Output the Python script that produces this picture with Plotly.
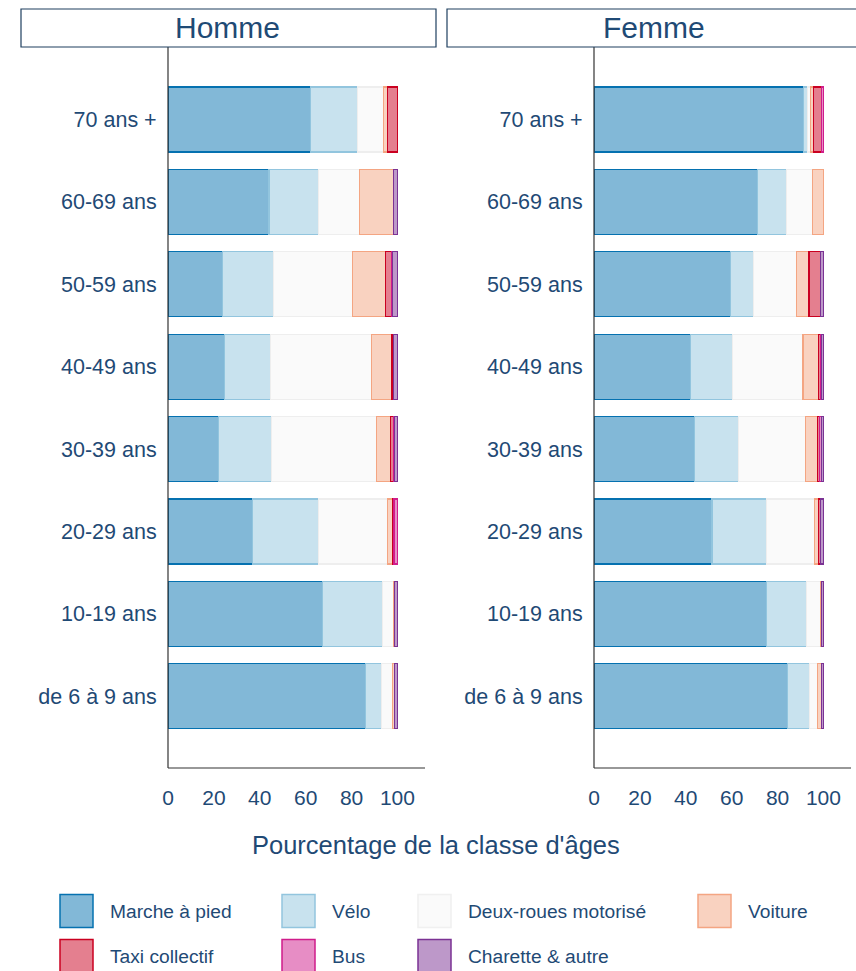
import plotly.graph_objects as go

W, H = 856, 971

ages = ["de 6 à 9 ans", "10-19 ans", "20-29 ans", "30-39 ans",
        "40-49 ans", "50-59 ans", "60-69 ans", "70 ans +"]

modes = ["Marche à pied", "Vélo", "Deux-roues motorisé", "Voiture",
         "Taxi collectif", "Bus", "Charette & autre"]

# Homme (order follows ages list)
homme_marche   = [86.2, 67.2, 36.7, 21.9, 24.5, 23.9, 44.0, 62.2]
homme_velo     = [7.0, 26.3, 28.8, 23.3, 20.3, 22.2, 21.7, 20.5]
homme_deux     = [4.5, 5.0, 30.3, 45.7, 43.9, 34.2, 17.6, 11.3]
homme_voiture  = [1.0, 0.3, 2.1, 6.2, 8.9, 14.6, 15.1, 1.8]
homme_taxi     = [0.0, 0.0, 0.6, 1.0, 0.8, 2.6, 0.0, 4.2]
homme_bus      = [0.0, 0.0, 1.5, 0.6, 0.0, 0.3, 0.0, 0.0]
homme_charette = [1.3, 1.2, 0.0, 1.3, 1.6, 2.2, 1.6, 0.0]

# Femme
femme_marche   = [84.4, 75.1, 51.4, 43.8, 42.1, 59.5, 71.3, 91.4]
femme_velo     = [9.5, 17.6, 23.7, 19.2, 18.2, 9.9, 12.5, 1.5]
femme_deux     = [3.5, 6.0, 21.1, 29.3, 30.8, 18.9, 11.5, 1.4]
femme_voiture  = [1.8, 0.3, 1.5, 5.2, 6.8, 5.4, 4.7, 1.2]
femme_taxi     = [0.0, 0.3, 1.0, 0.9, 0.9, 5.0, 0.0, 3.5]
femme_bus      = [0.0, 0.0, 0.0, 0.8, 0.4, 0.0, 0.0, 1.0]
femme_charette = [0.8, 0.7, 1.3, 0.8, 0.8, 1.3, 0.0, 0.0]

x_ticks = [0, 20, 40, 60, 80, 100]

line_colors = ["#0571b0", "#92c5de", "#eeeeee", "#f4a582",
               "#ca0020", "#d01c8b", "#7b3294"]
fill_colors = ["rgba(5,113,176,0.5)", "rgba(146,197,222,0.5)",
               "rgba(247,247,247,0.6)", "rgba(244,165,130,0.5)",
               "rgba(202,0,32,0.5)", "rgba(208,28,139,0.5)",
               "rgba(123,50,148,0.5)"]

TXT = "#1f4a75"
FONT = "Liberation Sans"

homme = [homme_marche, homme_velo, homme_deux, homme_voiture,
         homme_taxi, homme_bus, homme_charette]
femme = [femme_marche, femme_velo, femme_deux, femme_voiture,
         femme_taxi, femme_bus, femme_charette]

fig = go.Figure()

def nz(vals):
    return [v if v > 0 else None for v in vals]

for axis, data in (("x", homme), ("x2", femme)):
    for i, name in enumerate(modes):
        fig.add_trace(go.Bar(
            x=nz(data[i]), y=ages, orientation="h", name=name,
            xaxis=axis, yaxis="y" if axis == "x" else "y2",
            marker=dict(color=fill_colors[i],
                        line=dict(color=line_colors[i], width=1.2)),
            showlegend=False,
        ))

def px(v):
    return v / W

def py(v):
    return 1 - v / H

dom1 = [px(168), px(425)]
dom2 = [px(594), px(851)]
ydom = [py(768), py(47)]

xcommon = dict(range=[0, 112], tickvals=x_ticks, showgrid=False, zeroline=False,
               showline=False, ticks="outside", ticklen=11,
               tickcolor="rgba(0,0,0,0)",
               tickfont=dict(size=21, color=TXT, family=FONT), automargin=False)
ycommon = dict(type="category", categoryorder="array", categoryarray=ages,
               range=[-0.87, 7.88], showgrid=False, zeroline=False,
               showline=False, ticks="outside", ticklen=6,
               tickcolor="rgba(0,0,0,0)",
               tickfont=dict(size=21.5, color=TXT, family=FONT), automargin=False)

fig.update_layout(
    width=W, height=H,
    margin=dict(l=0, r=0, t=0, b=0),
    paper_bgcolor="white", plot_bgcolor="white",
    barmode="stack", bargap=0.21,
    showlegend=False,
    font=dict(family=FONT, color=TXT),
    xaxis=dict(domain=dom1, anchor="y", **xcommon),
    xaxis2=dict(domain=dom2, anchor="y2", **xcommon),
    yaxis=dict(domain=ydom, anchor="x", **ycommon),
    yaxis2=dict(domain=ydom, anchor="x2", **ycommon),
)

shapes = []
annotations = []
AX = "#333333"
# axis lines (left + bottom) per panel
for d in (dom1, dom2):
    shapes.append(dict(type="line", xref="paper", yref="paper",
                       x0=d[0], x1=d[0], y0=ydom[0], y1=ydom[1],
                       line=dict(color=AX, width=1.2)))
    shapes.append(dict(type="line", xref="paper", yref="paper",
                       x0=d[0], x1=d[1], y0=ydom[0], y1=ydom[0],
                       line=dict(color=AX, width=1.2)))

# header boxes
for x0, x1, label, cx in ((21, 436, "Homme", 228), (447, 862, "Femme", 654)):
    shapes.append(dict(type="rect", xref="paper", yref="paper",
                       x0=px(x0), x1=px(x1), y0=py(47), y1=py(9),
                       line=dict(color="#1f3f5f", width=1.2),
                       fillcolor="white"))
    annotations.append(dict(text=label, xref="paper", yref="paper",
                            x=px(cx), y=py(27), showarrow=False,
                            xanchor="center", yanchor="middle",
                            font=dict(size=30, color=TXT, family=FONT)))

# axis title
annotations.append(dict(text="Pourcentage de la classe d'âges",
                        xref="paper", yref="paper", x=px(436), y=py(845),
                        showarrow=False, xanchor="center", yanchor="middle",
                        font=dict(size=25.5, color=TXT, family=FONT)))

# legend (manual)
leg_pos = [(60, 911), (282, 911), (418, 911), (698, 911),
           (60, 956), (282, 956), (418, 956)]
for i, name in enumerate(modes):
    sx, cy = leg_pos[i]
    shapes.append(dict(type="rect", xref="paper", yref="paper",
                       x0=px(sx), x1=px(sx + 33), y0=py(cy + 16.5), y1=py(cy - 16.5),
                       line=dict(color=line_colors[i] if i != 2 else "#f0f0f0", width=1.5),
                       fillcolor=fill_colors[i]))
    annotations.append(dict(text=name, xref="paper", yref="paper",
                            x=px(sx + 48), y=py(cy), showarrow=False,
                            xanchor="left", yanchor="middle",
                            font=dict(size=19.2, color=TXT, family=FONT)))

fig.update_layout(shapes=shapes, annotations=annotations)

fig.write_html("out.html",
               config={"displayModeBar": False},
               post_script="document.body.style.margin='0';document.body.style.overflow='hidden';")
